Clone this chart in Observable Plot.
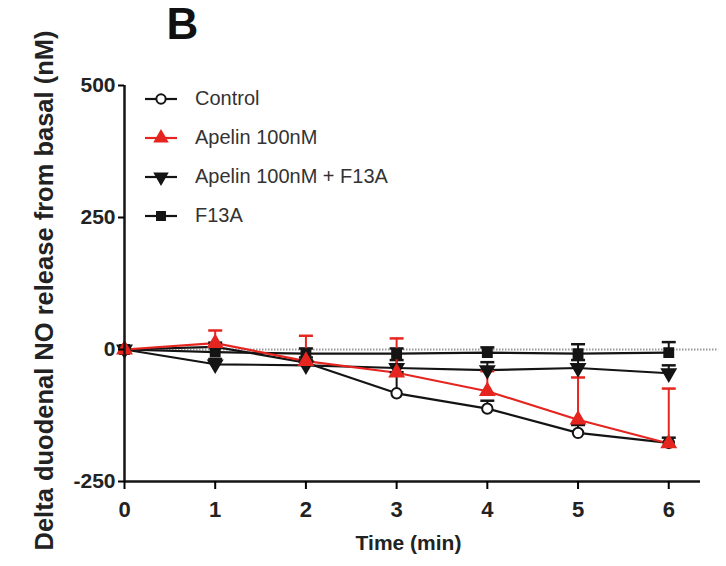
<!DOCTYPE html>
<html><head><meta charset="utf-8">
<script src="https://cdn.jsdelivr.net/npm/d3@7"></script>
<script src="https://cdn.jsdelivr.net/npm/@observablehq/plot@0.6"></script>
<style>
body{margin:0;background:#fff;}
#wrap{position:relative;width:726px;height:566px;font-family:"Liberation Sans",Arial,sans-serif;}
#legend{position:absolute;left:144px;top:87px;}
.row{display:flex;align-items:center;font-size:20px;color:#333;position:absolute;left:0;white-space:nowrap;}
.row svg{margin-right:17px}
#wrap svg text{font-family:"Liberation Sans",Arial,sans-serif;}
</style></head><body><div id="wrap"></div>
<script>
// ---- data ----
const times = [0, 1, 2, 3, 4, 5, 6];
const seriesNames = ["Control", "Apelin 100nM", "Apelin 100nM + F13A", "F13A"];
const controlMean = [0, 5, -25, -83, -112, -158, -177];
const controlErr  = [0, 8, 10, 40, 15, 15, 10];
const apelinMean  = [0, 12, -22, -44, -79, -133, -178];
const apelinErr   = [0, 24, 48, 65, 38, 80, 104];
const comboMean   = [0, -28, -30, -35, -39, -35, -45];
const comboErr    = [0, 10, 10, 15, 15, 15, 15];
const f13aMean    = [0, -5, -8, -8, -6, -8, -6];
const f13aErr     = [0, 10, 10, 10, 10, 18, 20];
const yTicks = [-250, 0, 250, 500];
const xTicks = [0, 1, 2, 3, 4, 5, 6];
const yLabel = "Delta duodenal NO release from basal (nM)";
const xLabel = "Time (min)";
const panelLabel = "B";

// ---- symbols ----
const sqrt3 = Math.sqrt(3);
const triangleDown = {draw(ctx, size) {
  const y = -Math.sqrt(size / (sqrt3 * 3));
  ctx.moveTo(0, -y * 2); ctx.lineTo(-sqrt3 * y, y); ctx.lineTo(sqrt3 * y, y); ctx.closePath();
}};
const capSymbol = {draw(ctx, size) { ctx.moveTo(-7, 0); ctx.lineTo(7, 0); }};

const RED = "#e5251f", BLACK = "#141414";
const styles = [
  {color: BLACK, symbol: "circle", fill: "white", r: 5.2},
  {color: RED, symbol: "triangle", fill: RED, r: 5},
  {color: BLACK, symbol: triangleDown, fill: BLACK, r: 5},
  {color: BLACK, symbol: "square", fill: BLACK, r: 5}
];
const means = [controlMean, apelinMean, comboMean, f13aMean];
const errs = [controlErr, apelinErr, comboErr, f13aErr];
const rowsBySeries = seriesNames.map((s, i) => times.map((t, j) => ({series: s, time: t, mean: means[i][j], err: errs[i][j]})));

const drawOrder = [0, 2, 3, 1];
const marks = [
  Plot.ruleY([0], {x1: 0, x2: 6.55, stroke: "#999", strokeWidth: 2, strokeDasharray: "1.5,1.5"}),
];
for (const i of drawOrder) {
  const st = styles[i], rows = rowsBySeries[i];
  marks.push(Plot.line(rows, {x: "time", y: "mean", stroke: st.color, strokeWidth: 2.2}));
}
for (const i of drawOrder) {
  const st = styles[i], rows = rowsBySeries[i].filter(d => d.err > 0);
  marks.push(Plot.ruleX(rows, {x: "time", y1: "mean", y2: d => d.mean + d.err, stroke: st.color, strokeWidth: 2}));
  marks.push(Plot.dot(rows, {x: "time", y: d => d.mean + d.err, symbol: capSymbol, stroke: st.color, strokeWidth: 2.5, fill: "none"}));
}
for (const i of drawOrder) {
  const st = styles[i], rows = rowsBySeries[i];
  marks.push(Plot.dot(rows, {x: "time", y: "mean", symbol: st.symbol, r: st.r, fill: st.fill, stroke: st.color, strokeWidth: 2}));
}
const fmt = d => String(d);
marks.push(
  Plot.ruleX([0], {y1: -250, y2: 500, stroke: BLACK, strokeWidth: 2.5}),
  Plot.ruleY([-250], {x1: 0, x2: 6.35, stroke: BLACK, strokeWidth: 2.5}),
  Plot.axisY({ticks: yTicks, tickFormat: fmt, tickSize: 6, tickPadding: 3, fontSize: 21, fontWeight: "bold", strokeWidth: 2, label: null, fill: "#222"}),
  Plot.axisX({ticks: xTicks, tickFormat: fmt, tickSize: 8, tickPadding: 12, fontSize: 22, fontWeight: "bold", strokeWidth: 2, label: null, fill: "#222"}),
  Plot.text([yLabel], {frameAnchor: "left", rotate: -90, dx: -80, dy: 7, textAnchor: "middle", fontSize: 25.5, fontWeight: "bold", fill: "#222", lineAnchor: "middle"}),
  Plot.text([xLabel], {frameAnchor: "bottom", dy: 62, dx: -4, fontSize: 21, fontWeight: "bold", fill: "#222", lineAnchor: "middle"}),
  Plot.text([panelLabel], {frameAnchor: "top-left", dx: 42, dy: -61, fontSize: 44, fontWeight: "bold", fill: "#111", lineAnchor: "middle"})
);

const chart = Plot.plot({
  width: 726, height: 566,
  marginLeft: 124, marginRight: 26, marginTop: 85, marginBottom: 85,
  x: {domain: [0, 6.35]},
  y: {domain: [-250, 500]},
  style: {background: "white", overflow: "visible"},
  marks
});
const wrap = document.getElementById("wrap");
wrap.appendChild(chart);

// ---- legend ----
const legend = document.createElement("div");
legend.id = "legend";
wrap.appendChild(legend);
const rowTops = [0, 39, 78, 117];
seriesNames.forEach((name, i) => {
  const st = styles[i];
  const row = document.createElement("div");
  row.className = "row";
  row.style.top = rowTops[i] + "px";
  const svg = d3.create("svg").attr("width", 34).attr("height", 20);
  svg.append("line").attr("x1", 1).attr("x2", 33).attr("y1", 10).attr("y2", 10).attr("stroke", st.color).attr("stroke-width", 2.2);
  const sym = typeof st.symbol === "string" ? {circle: d3.symbolCircle, triangle: d3.symbolTriangle, square: d3.symbolSquare}[st.symbol] : st.symbol;
  svg.append("path").attr("transform", "translate(17,10)").attr("d", d3.symbol(sym, Math.PI * st.r * st.r * 0.8)())
    .attr("fill", st.fill).attr("stroke", st.color).attr("stroke-width", 2);
  row.appendChild(svg.node());
  const span = document.createElement("span");
  span.textContent = name;
  row.appendChild(span);
  legend.appendChild(row);
});
</script></body></html>
